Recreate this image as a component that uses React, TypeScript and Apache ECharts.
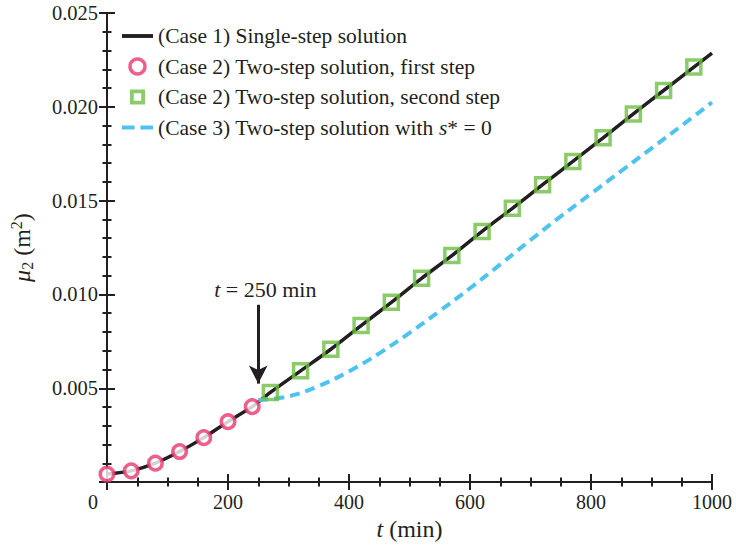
import React, { useEffect, useRef } from "react";
import * as echarts from "echarts";

// Case 1: single-step solution (continuous line)
const tLine = [0, 40, 80, 120, 160, 200, 240, 270, 320, 370, 420, 470, 520, 570, 620, 670, 720, 770, 820, 870, 920, 970, 1000];
const muLine = [0.00043, 0.0006, 0.00101, 0.00163, 0.00237, 0.00322, 0.00402, 0.00478, 0.00593, 0.00708, 0.00834, 0.00958, 0.01086, 0.01207, 0.01336, 0.01459, 0.01585, 0.01709, 0.01835, 0.01962, 0.02087, 0.02212, 0.02286];

// Case 2: two-step solution, first step (circles)
const tFirst = [0, 40, 80, 120, 160, 200, 240];
const muFirst = [0.00043, 0.0006, 0.00101, 0.00163, 0.00237, 0.00322, 0.00402];

// Case 2: two-step solution, second step (squares)
const tSecond = [270, 320, 370, 420, 470, 520, 570, 620, 670, 720, 770, 820, 870, 920, 970];
const muSecond = [0.00478, 0.00593, 0.00708, 0.00834, 0.00958, 0.01086, 0.01207, 0.01336, 0.01459, 0.01585, 0.01709, 0.01835, 0.01962, 0.02087, 0.02212];

// Case 3: two-step solution with s* = 0 (dashed)
const tNoS = [250, 300, 350, 400, 450, 500, 550, 600, 650, 700, 750, 800, 850, 900, 950, 1000];
const muNoS = [0.00437, 0.00457, 0.00512, 0.0059, 0.00686, 0.00795, 0.00912, 0.01033, 0.0116, 0.0129, 0.01416, 0.01537, 0.01658, 0.01779, 0.019, 0.02024];

const seriesNames = [
  "(Case 1) Single-step solution",
  "(Case 2) Two-step solution, first step",
  "(Case 2) Two-step solution, second step",
  "(Case 3) Two-step solution with s* = 0",
];

const arrowT = 250;
const arrowFrom = 0.00945;
const arrowTo = 0.00525;

const zip = (xs: number[], ys: number[]) => xs.map((x, i) => [x, ys[i]]);

const FONT = "'Liberation Serif', 'Times New Roman', serif";
const INK = "#231f20";
const RED = "#e9386d";
const GREEN = "#6fbe44";
const BLUE = "#4ec3f0";

export default function App() {
  const ref = useRef<HTMLDivElement>(null);
  useEffect(() => {
    if (!ref.current) return;
    const chart = echarts.init(ref.current, null, { renderer: "svg" });
    const axisLine = { show: true, lineStyle: { color: INK, width: 2 } };
    const axisTick = { show: true, inside: true, length: 8, lineStyle: { color: INK, width: 2 } };
    const minorTick = { show: true, length: 4.5, lineStyle: { color: INK, width: 2 } };
    const legendFont = 21.5;
    chart.setOption({
      animation: false,
      backgroundColor: "#ffffff",
      grid: { left: 107, right: 24, top: 13, bottom: 62, containLabel: false },
      legend: {
        left: 117,
        top: 20,
        orient: "vertical",
        itemWidth: 31,
        itemHeight: 15,
        itemGap: 8.5,
        data: [
          { name: seriesNames[0], icon: "path://M0,0h32v4h-32z", itemStyle: { color: INK, borderWidth: 0 } },
          { name: seriesNames[1], icon: "circle", itemStyle: { color: "#ffffff", borderColor: RED, borderWidth: 3.5 } },
          { name: seriesNames[2], icon: "path://M0,0h14v14h-14z M3.5,3.5v7h7v-7z", itemStyle: { color: GREEN, borderWidth: 0 } },
          { name: seriesNames[3], icon: "path://M0,0h13v4h-13z M19,0h13v4h-13z", itemStyle: { color: BLUE, borderWidth: 0 } },
        ],
        formatter: (name: string) => name.replace("s* = 0", "{i|s}* = 0"),
        textStyle: {
          fontFamily: FONT,
          fontSize: legendFont,
          color: INK,
          lineHeight: 22,
          rich: { i: { fontFamily: FONT, fontSize: legendFont, fontStyle: "italic", color: INK } },
        },
      },
      xAxis: [
        {
          type: "value",
          min: 0,
          max: 1000,
          interval: 200,
          name: "{i|t} (min)",
          nameLocation: "middle",
          nameGap: 26,
          nameTextStyle: {
            fontFamily: FONT,
            fontSize: 24,
            color: INK,
            rich: { i: { fontFamily: FONT, fontSize: 24, fontStyle: "italic", color: INK } },
          },
          axisLine,
          axisTick,
          minorTick: { ...minorTick, splitNumber: 4 },
          splitLine: { show: false },
          axisLabel: {
            fontFamily: FONT,
            fontSize: 20,
            color: INK,
            margin: 10,
            formatter: (v: number) => (v === 0 ? "{z|0}" : String(v)),
            rich: { z: { fontFamily: FONT, fontSize: 20, color: INK, padding: [0, 28, 0, 0] } },
          },
        },
        {
          type: "value",
          position: "top",
          min: 0,
          max: 1000,
          interval: 200,
          axisLine,
          axisTick,
          minorTick: { ...minorTick, splitNumber: 4 },
          splitLine: { show: false },
          axisLabel: { show: false },
        },
      ],
      yAxis: [
        {
          type: "value",
          min: 0,
          max: 0.025,
          interval: 0.005,
          name: "{i|μ}{s|2} (m{p|2})",
          nameLocation: "middle",
          nameGap: 72,
          nameRotate: 90,
          nameTextStyle: {
            fontFamily: FONT,
            fontSize: 24,
            color: INK,
            rich: {
              i: { fontFamily: FONT, fontSize: 24, fontStyle: "italic", color: INK },
              s: { fontFamily: FONT, fontSize: 16, color: INK, padding: [11, 0, 0, 0] },
              p: { fontFamily: FONT, fontSize: 16, color: INK, padding: [0, 0, 11, 0] },
            },
          },
          axisLine,
          axisTick,
          minorTick: { ...minorTick, splitNumber: 5 },
          splitLine: { show: false },
          axisLabel: {
            fontFamily: FONT,
            fontSize: 20.5,
            color: INK,
            margin: 9,
            formatter: (v: number) => (v === 0 ? "" : v.toFixed(3)),
          },
        },
        {
          type: "value",
          position: "right",
          min: 0,
          max: 0.025,
          interval: 0.005,
          axisLine,
          axisTick,
          minorTick: { ...minorTick, splitNumber: 5 },
          splitLine: { show: false },
          axisLabel: { show: false },
        },
      ],
      series: [
        {
          name: seriesNames[0],
          type: "line",
          data: zip(tLine, muLine),
          smooth: 0.3,
          symbol: "none",
          lineStyle: { color: INK, width: 3.5 },
          itemStyle: { color: INK },
          z: 2,
          markLine: {
            silent: true,
            symbol: ["none", "arrow"],
            symbolSize: [14, 18],
            lineStyle: { color: INK, width: 3, type: "solid" },
            label: {
              show: true,
              position: "start",
              distance: 4,
              formatter: "{i|t} = 250 min",
              fontFamily: FONT,
              fontSize: 22,
              color: INK,
              padding: [0, 0, 0, 14],
              rich: { i: { fontFamily: FONT, fontSize: 22, fontStyle: "italic", color: INK } },
            },
            data: [[{ coord: [arrowT, arrowFrom] }, { coord: [arrowT, arrowTo] }]],
          },
        },
        {
          name: seriesNames[1],
          type: "scatter",
          data: zip(tFirst, muFirst),
          symbol: "circle",
          symbolSize: 13.5,
          itemStyle: { color: "#ffffff", borderColor: RED, borderWidth: 3.5 },
          z: 4,
        },
        {
          name: seriesNames[2],
          type: "scatter",
          data: zip(tSecond, muSecond),
          symbol: "rect",
          symbolSize: 14,
          itemStyle: { color: "rgba(255,255,255,0)", borderColor: GREEN, borderWidth: 3.5 },
          z: 4,
        },
        {
          name: seriesNames[3],
          type: "line",
          data: zip(tNoS, muNoS),
          smooth: 0.4,
          symbol: "none",
          lineStyle: { color: BLUE, width: 4, type: [10, 6] },
          itemStyle: { color: BLUE },
          z: 3,
        },
      ],
    });
    return () => chart.dispose();
  }, []);
  return <div ref={ref} style={{ position: "fixed", left: 0, top: 0, width: 736, height: 546 }} />;
}
